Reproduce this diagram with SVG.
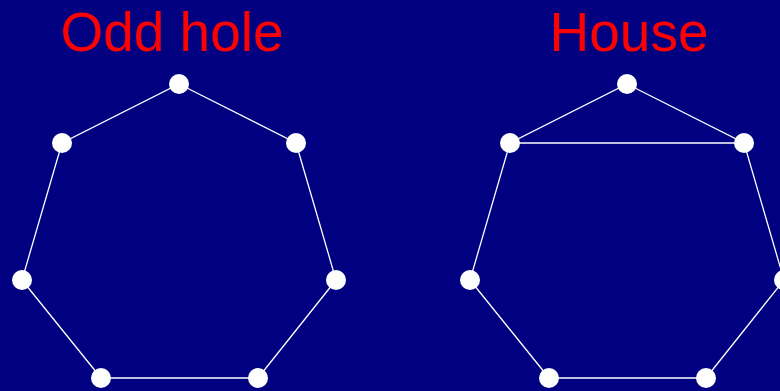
<svg xmlns="http://www.w3.org/2000/svg" width="780" height="391" viewBox="0 0 780 391">
<style>
.title{font-family:"Liberation Sans",Arial,sans-serif;font-size:55px;fill:#ff0000;text-anchor:middle}
.edge{stroke:#ffffff;stroke-width:1.3;fill:none}
.node{fill:#ffffff}
</style>
<rect x="0" y="0" width="780" height="391" fill="#000080"/>
<text class="title" x="172" y="51">Odd hole</text>
<text class="title" x="629" y="51">House</text>
<g id="connectors">
<polygon class="edge" points="179,84 296,143 336,280 258,378 101,378 22,280 62,143"/>
<polygon class="edge" points="627,84 744,143 784,280 706,378 549,378 470,280 510,143"/>
<line class="edge" x1="510" y1="143" x2="744" y2="143"/>
</g>
<g id="a1"><circle class="node" cx="179" cy="84" r="10"/></g>
<g id="a2"><circle class="node" cx="296" cy="143" r="10"/></g>
<g id="a3"><circle class="node" cx="336" cy="280" r="10"/></g>
<g id="a4"><circle class="node" cx="258" cy="378" r="10"/></g>
<g id="a5"><circle class="node" cx="101" cy="378" r="10"/></g>
<g id="a6"><circle class="node" cx="22" cy="280" r="10"/></g>
<g id="a7"><circle class="node" cx="62" cy="143" r="10"/></g>
<g id="b1"><circle class="node" cx="627" cy="84" r="10"/></g>
<g id="b2"><circle class="node" cx="744" cy="143" r="10"/></g>
<g id="b3"><circle class="node" cx="784" cy="280" r="10"/></g>
<g id="b4"><circle class="node" cx="706" cy="378" r="10"/></g>
<g id="b5"><circle class="node" cx="549" cy="378" r="10"/></g>
<g id="b6"><circle class="node" cx="470" cy="280" r="10"/></g>
<g id="b7"><circle class="node" cx="510" cy="143" r="10"/></g>
</svg>
